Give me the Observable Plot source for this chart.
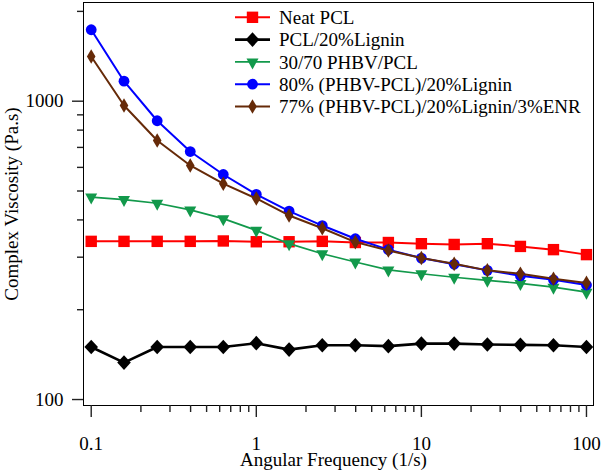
<!DOCTYPE html>
<html><head><meta charset="utf-8">
<script src="https://cdn.jsdelivr.net/npm/d3@7"></script>
<script src="https://cdn.jsdelivr.net/npm/@observablehq/plot@0.6"></script>
<style>body{margin:0;background:#fff}</style>
</head><body><div id="chart"></div>
<script>
const freq = [0.1, 0.158, 0.251, 0.398, 0.631, 1, 1.58, 2.51, 3.98, 6.31, 10, 15.8, 25.1, 39.8, 63.1, 100];
const seriesNames = ["Neat PCL", "PCL/20%Lignin", "30/70 PHBV/PCL", "80% (PHBV-PCL)/20%Lignin", "77% (PHBV-PCL)/20%Lignin/3%ENR"];
const neatPCL = [339, 339, 339, 339, 340, 338, 338, 339, 336, 336, 333, 331, 333, 326, 318, 306];
const pclLignin = [150, 133, 150, 150, 150, 154.5, 147, 152, 152, 151, 154, 154, 153, 152.5, 152, 150];
const phbvPcl = [477, 468, 455, 432, 404, 369, 333, 308, 289, 272, 264, 257, 251, 245, 238, 229];
const phbvPclLignin = [1736, 1167, 860, 678, 568, 487, 428, 383, 346, 318, 298, 284, 271, 260, 252, 242];
const phbvPclLigninEnr = [1412, 967, 738, 609, 529, 472, 414, 375, 337, 316, 298, 285, 271, 264, 254, 246];
const xMajorTicks = [0.1, 1, 10, 100];
const xMinorTicks = [0.2,0.3,0.4,0.5,0.6,0.7,0.8,0.9,2,3,4,5,6,7,8,9,20,30,40,50,60,70,80,90];
const yMajorTicks = [100, 1000];
const yMinorTicks = [200,300,400,500,600,700,800,900,2000];
const xLabel = "Angular Frequency (1/s)";
const yLabel = "Complex Viscosity (Pa.s)";

const serif = "Liberation Serif, Tinos, Times New Roman, Times, DejaVu Serif, serif";
const shapes = {
  square: c => { c.rect(-5.7, -5.7, 11.4, 11.4); },
  diamond: c => { c.moveTo(0, -7.3); c.lineTo(6.8, 0); c.lineTo(0, 7.3); c.lineTo(-6.8, 0); c.closePath(); },
  triDown: c => { c.moveTo(-6, -3.5); c.lineTo(6, -3.5); c.lineTo(0, 7.5); c.closePath(); },
  circle: c => { c.moveTo(5.4, 0); c.arc(0, 0, 5.4, 0, 2 * Math.PI); },
  thinDiamond: c => { c.moveTo(0, -7.3); c.lineTo(4.3, 0); c.lineTo(0, 7.3); c.lineTo(-4.3, 0); c.closePath(); }
};
const sym = f => ({draw(ctx) { f(ctx); }});

const series = [
  {name: seriesNames[0], values: neatPCL, color: "#ff0000", shape: "square", width: 2},
  {name: seriesNames[1], values: pclLignin, color: "#000000", shape: "diamond", width: 2.6},
  {name: seriesNames[2], values: phbvPcl, color: "#12994b", shape: "triDown", width: 1.7},
  {name: seriesNames[3], values: phbvPclLignin, color: "#0000ff", shape: "circle", width: 2},
  {name: seriesNames[4], values: phbvPclLigninEnr, color: "#662a08", shape: "thinDiamond", width: 2}
];

const marks = [
  Plot.frame({stroke: "black", strokeWidth: 1}),
  Plot.axisX(xMajorTicks, {anchor: "bottom", tickSize: 12, tickPadding: 19, tickFormat: d => String(d), label: null, stroke: "#222", strokeWidth: 1.4, fontSize: 19}),
  Plot.axisX(xMinorTicks, {anchor: "bottom", tickSize: 7, tickFormat: () => "", label: null, stroke: "#222", strokeWidth: 1.4}),
  Plot.axisY(yMajorTicks, {anchor: "left", tickSize: 11, tickPadding: 9, tickFormat: d => String(d), label: null, stroke: "#222", strokeWidth: 1.4, fontSize: 19}),
  Plot.axisY(yMinorTicks, {anchor: "left", tickSize: 6, tickFormat: () => "", label: null, stroke: "#222", strokeWidth: 1.4}),
  Plot.text([xLabel], {frameAnchor: "bottom", textAnchor: "middle", lineAnchor: "middle", dx: -5, dy: 54, text: d => d, fontSize: 19}),
  Plot.text([yLabel], {frameAnchor: "left", textAnchor: "middle", lineAnchor: "middle", dx: -72, rotate: -90, text: d => d, fontSize: 19})
];
for (const s of series) {
  const rows = freq.map((f, i) => ({x: f, y: s.values[i]}));
  marks.push(Plot.line(rows, {x: "x", y: "y", stroke: s.color, strokeWidth: s.width}));
  marks.push(Plot.dot(rows, {x: "x", y: "y", symbol: sym(shapes[s.shape]), fill: s.color, stroke: "none", r: 5}));
}

const svg = Plot.plot({
  width: 602, height: 470,
  marginLeft: 83, marginRight: 9, marginTop: 2, marginBottom: 65,
  style: {background: "white", color: "black"},
  x: {type: "log", domain: [0.0898, 110.3]},
  y: {type: "log", domain: [95.5, 2142]},
  marks
});

const legend = d3.select(svg).append("g").attr("text-anchor", "start");
series.forEach((s, i) => {
  const y = 17.3 + i * 22.3;
  legend.append("line").attr("x1", 235).attr("x2", 270).attr("y1", y).attr("y2", y)
    .attr("stroke", s.color).attr("stroke-width", s.width);
  const p = d3.path(); shapes[s.shape](p);
  legend.append("path").attr("d", p.toString()).attr("transform", `translate(252.5,${y})`).attr("fill", s.color);
  legend.append("text").attr("x", 279).attr("y", y).attr("dy", "0.35em").attr("font-size", 19)
    .attr("text-anchor", "start").attr("fill", "black").text(s.name);
});
d3.select(svg).style("font-family", serif).style("font-size", "19px");
d3.select(svg).selectAll("text").style("font-family", serif);

document.getElementById("chart").appendChild(svg);
</script>
</body></html>
